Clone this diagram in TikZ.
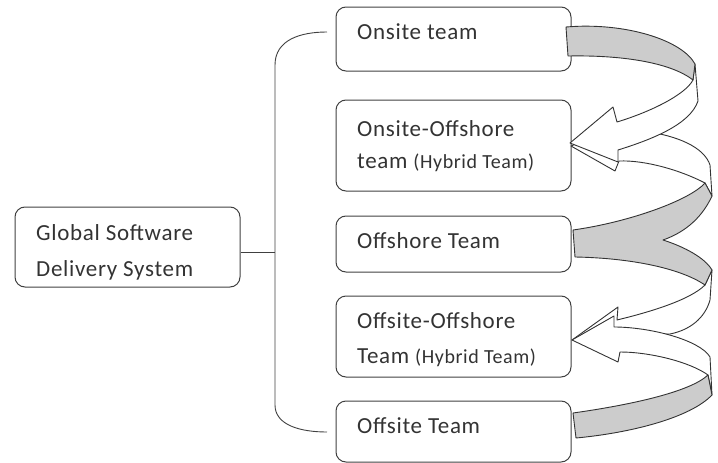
\documentclass[tikz,border=0pt]{standalone}
\usepackage{fontspec}
\setmainfont{Carlito}[LetterSpace=3]
\usetikzlibrary{calc}
\newcommand{\hyb}[1]{{\fontsize{20}{24}\selectfont #1}}
\begin{document}
\begin{tikzpicture}[x=1pt,y=-1pt,
  tbox/.style={draw=black!75, line width=1pt, rounded corners=10pt, inner sep=0pt},
  lbl/.style={anchor=base west, inner sep=0pt, text=black!80, font=\fontsize{23}{28}\selectfont},
  brk/.style={draw=black!75, line width=0.9pt},
  rib/.style={draw=black!80, line width=0.9pt, line join=round},
  ribgray/.style={rib, fill=black!20},
  ribwhite/.style={rib, fill=white}]
\useasboundingbox (0,0) rectangle (718,463);
% boxes
\node[tbox, minimum width=225pt, minimum height=80pt] (g) at (127.5,247) {};
\node[tbox, minimum width=235pt, minimum height=64pt] (b1) at (453.5,39) {};
\node[tbox, minimum width=235pt, minimum height=91pt] (b2) at (453.5,145.5) {};
\node[tbox, minimum width=235pt, minimum height=56pt] (b3) at (453.5,244) {};
\node[tbox, minimum width=235pt, minimum height=81pt] (b4) at (453.5,336.5) {};
\node[tbox, minimum width=235pt, minimum height=61pt] (b5) at (453.5,431.5) {};
% texts
\node[lbl] (ga) at (36,240) {Global Software};
\node[lbl] (gb) at (36,276) {Delivery System};
\node[lbl] (t1) at (357,39) {Onsite team};
\node[lbl] (t2a) at (357,136) {Onsite-Offshore};
\node[lbl] (t2b) at (357,168) {team \hyb{(Hybrid Team)}};
\node[lbl] (t3) at (357,248) {Offshore Team};
\node[lbl] (t4a) at (357,328) {Offsite-Offshore};
\node[lbl] (t4b) at (357,363) {Team \hyb{(Hybrid Team)}};
\node[lbl] (t5) at (357,433) {Offsite Team};
% bracket
\coordinate (bj) at (275,252);
\coordinate (btop) at (327,32);
\coordinate (bbot) at (327,432);
\draw[brk] (g.east |- bj) -- (bj);
\draw[brk] (btop) .. controls (300,32) and (275,40) .. (275,65) -- (275,405) .. controls (275,425) and (300,432) .. (bbot);
% arrow 3 white (behind arrow 4)
\draw[ribwhite] (712,270) -- (710,300) .. controls (705,318) and (690,330) .. (670,334) -- (618,336) -- (616,345) -- (572,340) -- (618,307) -- (617,320) .. controls (650,312) and (690,300) .. (705,285) -- cycle;
% arrow 2 white (behind arrow 1)
\draw[ribwhite] (619,145) -- (650,132) .. controls (685,138) and (705,150) .. (710,165) -- (712,196) -- (705,183) .. controls (680,170) and (645,160) .. (619,161) -- (615,171) -- (571,146) -- (614,128) -- cycle;
% arrows 2 and 3 grey
\draw[ribgray] (573,230) .. controls (630,222) and (690,200) .. (705,183) -- (712,196) .. controls (700,222) and (680,234) .. (663,240) .. controls (685,247) and (705,258) .. (712,270) -- (705,285) .. controls (680,268) and (630,258) .. (575,257) -- cycle;
% arrow 4
\draw[ribwhite] (614,327) .. controls (650,327) and (700,340) .. (710,357) -- (712,395) -- (708,375) .. controls (690,362) and (650,352) .. (620,352) -- (618,362) -- (572,340) -- (614,316) -- cycle;
\draw[ribgray] (573,413) .. controls (630,405) and (690,392) .. (708,375) -- (712,395) .. controls (690,418) and (630,433) .. (576,438) -- cycle;
% arrow 1
\draw[ribwhite] (695,64) -- (698,101) .. controls (690,125) and (650,140) .. (618,150) -- (618,162) -- (570,143) -- (613,107) -- (617,122) .. controls (650,112) and (685,95) .. (693,80) -- cycle;
\draw[ribgray] (566,27) .. controls (625,22) and (682,40) .. (695,64) -- (693,80) .. controls (670,62) and (620,55) .. (568,56) -- cycle;
\end{tikzpicture}
\end{document}
